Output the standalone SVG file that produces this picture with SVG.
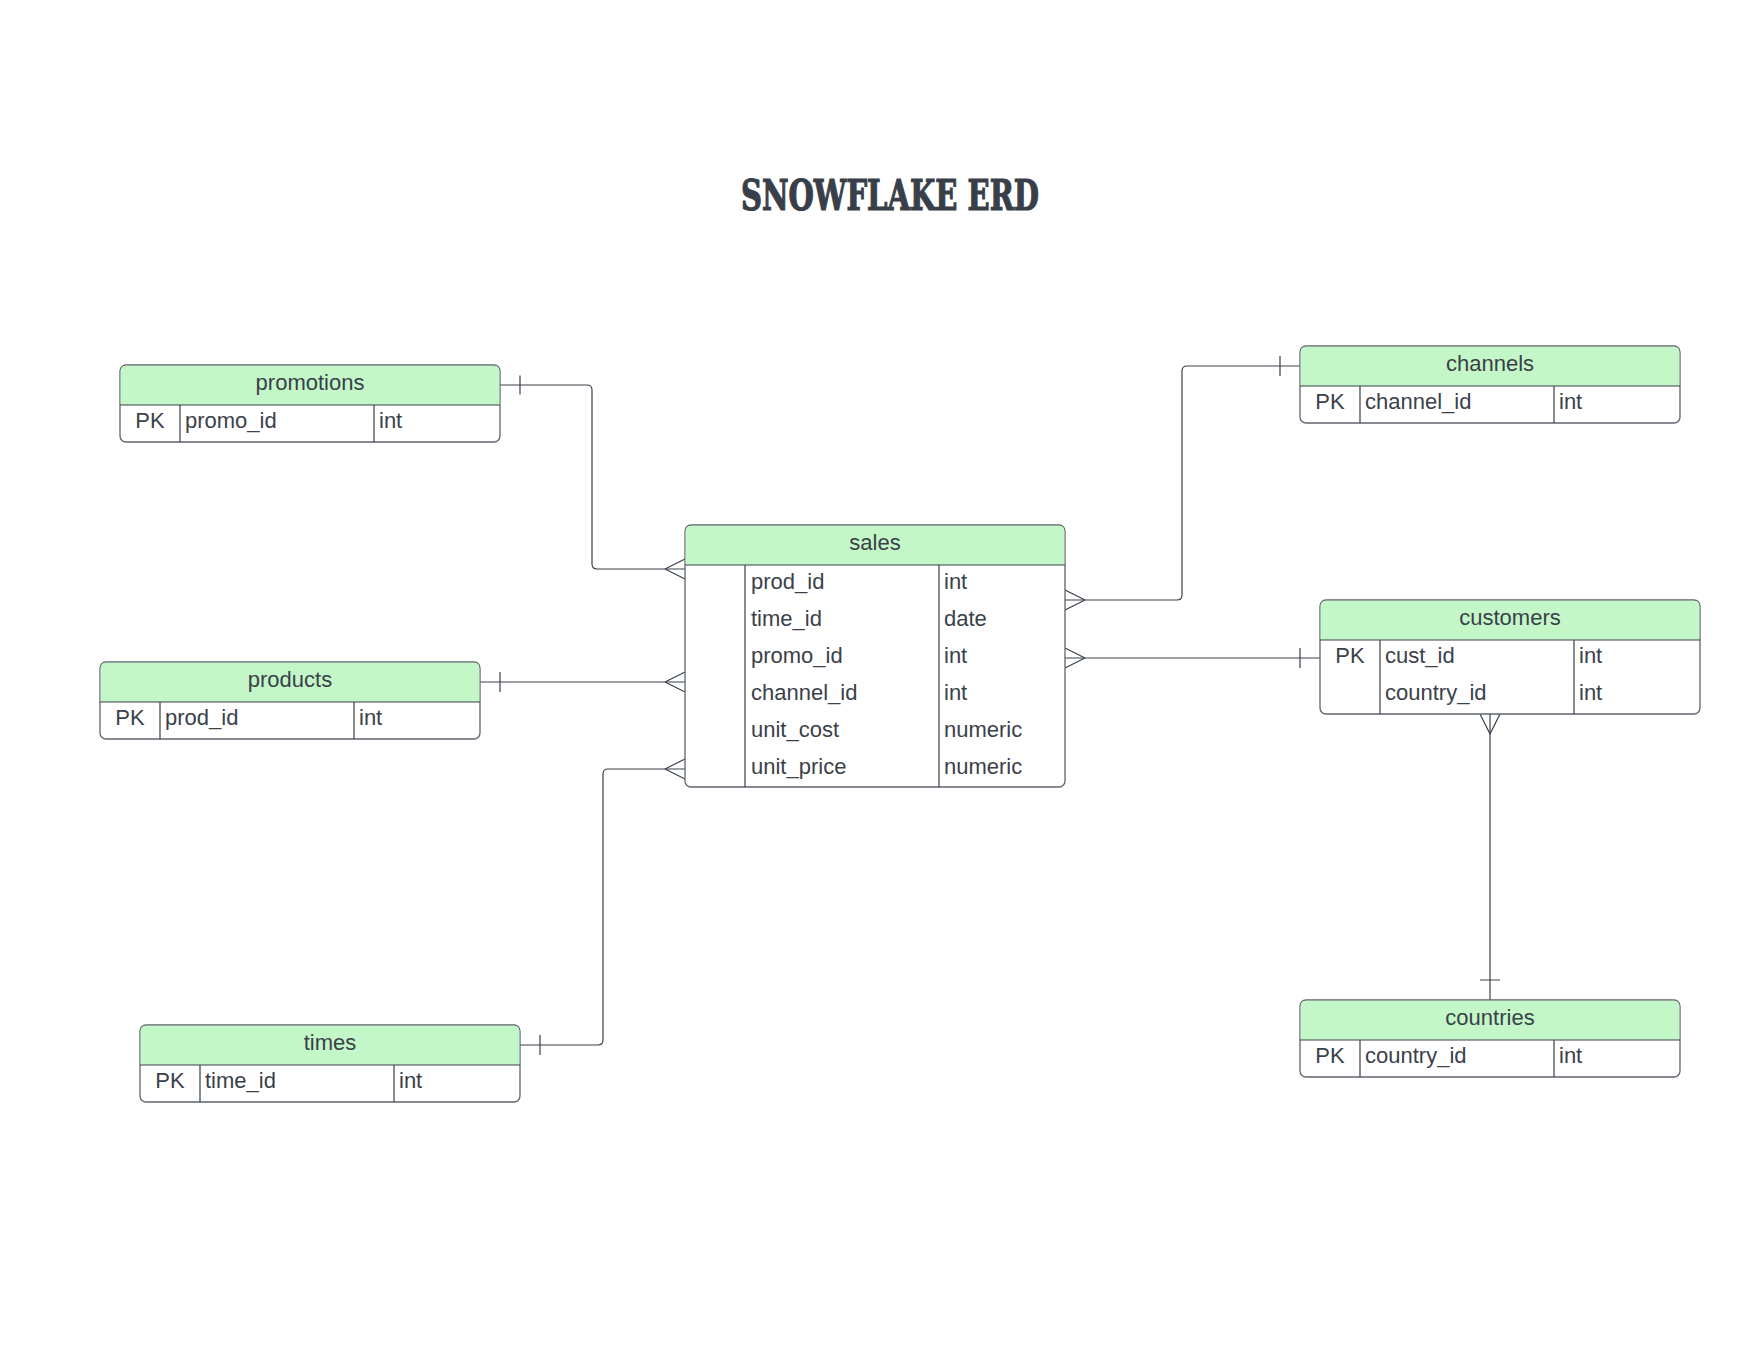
<svg xmlns="http://www.w3.org/2000/svg" width="1760" height="1360" viewBox="0 0 1760 1360">
<style>
.bg{fill:#ffffff}
.box{fill:#ffffff;stroke:#5f666f;stroke-width:1.3}
.hdr{fill:#c3f7c8}
.ln{stroke:#3a414a;stroke-width:1.2;fill:none}
.t{font-family:"Liberation Sans",Arial,sans-serif;font-size:22px;fill:#3a414a}
.c{text-anchor:middle}
.conn{fill:none;stroke:#3a414a;stroke-width:1.2}
.title{font-family:"DejaVu Serif Condensed","DejaVu Serif",serif;font-weight:bold;font-size:43px;fill:#393f49;stroke:#393f49;stroke-width:1.2;text-anchor:middle}
</style>
<rect class="bg" x="0" y="0" width="1760" height="1360"/>
<text class="title" x="890" y="210" textLength="298" lengthAdjust="spacingAndGlyphs">SNOWFLAKE ERD</text>

<g id="connectors">
  <path class="conn" d="M500,385 H587 Q592,385 592,390 V564 Q592,569 597,569 H685"/>
  <path class="conn" d="M520,375.5 V394.5 M665,569 L685,559 M665,569 L685,579"/>
  <path class="conn" d="M480,682 H685"/>
  <path class="conn" d="M500,672 V692 M665,682 L685,672 M665,682 L685,692"/>
  <path class="conn" d="M520,1045 H598 Q603,1045 603,1040 V774 Q603,769 608,769 H685"/>
  <path class="conn" d="M540,1035 V1055 M665,769 L685,759 M665,769 L685,779"/>
  <path class="conn" d="M1300,366 H1187 Q1182,366 1182,371 V595 Q1182,600 1177,600 H1065"/>
  <path class="conn" d="M1280,356 V376 M1085,600 L1065,590 M1085,600 L1065,610"/>
  <path class="conn" d="M1320,658 H1065"/>
  <path class="conn" d="M1300,648 V668 M1085,658 L1065,648 M1085,658 L1065,668"/>
  <path class="conn" d="M1490,714 V1000"/>
  <path class="conn" d="M1490,734 L1480,714 M1490,734 L1500,714 M1480,980 H1500"/>
</g>

<g id="promotions">
  <rect class="box" x="120" y="365" width="380" height="77" rx="6"/>
  <path class="hdr" d="M120.7,405 V371 Q120.7,365.7 126,365.7 H494 Q499.3,365.7 499.3,371 V405 Z"/>
  <path class="ln" d="M120,405 H500 M180,405 V442 M374,405 V442"/>
  <text class="t c" x="310" y="390">promotions</text>
  <text class="t c" x="150" y="428">PK</text>
  <text class="t" x="185" y="428">promo_id</text>
  <text class="t" x="379" y="428">int</text>
</g>

<g id="sales">
  <rect class="box" x="685" y="525" width="380" height="262" rx="6"/>
  <path class="hdr" d="M685.7,565 V531 Q685.7,525.7 691,525.7 H1059 Q1064.3,525.7 1064.3,531 V565 Z"/>
  <path class="ln" d="M685,565 H1065 M745,565 V787 M939,565 V787"/>
  <text class="t c" x="875" y="550">sales</text>
  <text class="t" x="751" y="589">prod_id</text>
  <text class="t" x="944" y="589">int</text>
  <text class="t" x="751" y="626">time_id</text>
  <text class="t" x="944" y="626">date</text>
  <text class="t" x="751" y="663">promo_id</text>
  <text class="t" x="944" y="663">int</text>
  <text class="t" x="751" y="700">channel_id</text>
  <text class="t" x="944" y="700">int</text>
  <text class="t" x="751" y="737">unit_cost</text>
  <text class="t" x="944" y="737">numeric</text>
  <text class="t" x="751" y="774">unit_price</text>
  <text class="t" x="944" y="774">numeric</text>
</g>

<g id="channels">
  <rect class="box" x="1300" y="346" width="380" height="77" rx="6"/>
  <path class="hdr" d="M1300.7,386 V352 Q1300.7,346.7 1306,346.7 H1674 Q1679.3,346.7 1679.3,352 V386 Z"/>
  <path class="ln" d="M1300,386 H1680 M1360,386 V423 M1554,386 V423"/>
  <text class="t c" x="1490" y="371">channels</text>
  <text class="t c" x="1330" y="409">PK</text>
  <text class="t" x="1365" y="409">channel_id</text>
  <text class="t" x="1559" y="409">int</text>
</g>

<g id="customers">
  <rect class="box" x="1320" y="600" width="380" height="114" rx="6"/>
  <path class="hdr" d="M1320.7,640 V606 Q1320.7,600.7 1326,600.7 H1694 Q1699.3,600.7 1699.3,606 V640 Z"/>
  <path class="ln" d="M1320,640 H1700 M1380,640 V714 M1574,640 V714"/>
  <text class="t c" x="1510" y="625">customers</text>
  <text class="t c" x="1350" y="663">PK</text>
  <text class="t" x="1385" y="663">cust_id</text>
  <text class="t" x="1579" y="663">int</text>
  <text class="t" x="1385" y="700">country_id</text>
  <text class="t" x="1579" y="700">int</text>
</g>

<g id="products">
  <rect class="box" x="100" y="662" width="380" height="77" rx="6"/>
  <path class="hdr" d="M100.7,702 V668 Q100.7,662.7 106,662.7 H474 Q479.3,662.7 479.3,668 V702 Z"/>
  <path class="ln" d="M100,702 H480 M160,702 V739 M354,702 V739"/>
  <text class="t c" x="290" y="687">products</text>
  <text class="t c" x="130" y="725">PK</text>
  <text class="t" x="165" y="725">prod_id</text>
  <text class="t" x="359" y="725">int</text>
</g>

<g id="times">
  <rect class="box" x="140" y="1025" width="380" height="77" rx="6"/>
  <path class="hdr" d="M140.7,1065 V1031 Q140.7,1025.7 146,1025.7 H514 Q519.3,1025.7 519.3,1031 V1065 Z"/>
  <path class="ln" d="M140,1065 H520 M200,1065 V1102 M394,1065 V1102"/>
  <text class="t c" x="330" y="1050">times</text>
  <text class="t c" x="170" y="1088">PK</text>
  <text class="t" x="205" y="1088">time_id</text>
  <text class="t" x="399" y="1088">int</text>
</g>

<g id="countries">
  <rect class="box" x="1300" y="1000" width="380" height="77" rx="6"/>
  <path class="hdr" d="M1300.7,1040 V1006 Q1300.7,1000.7 1306,1000.7 H1674 Q1679.3,1000.7 1679.3,1006 V1040 Z"/>
  <path class="ln" d="M1300,1040 H1680 M1360,1040 V1077 M1554,1040 V1077"/>
  <text class="t c" x="1490" y="1025">countries</text>
  <text class="t c" x="1330" y="1063">PK</text>
  <text class="t" x="1365" y="1063">country_id</text>
  <text class="t" x="1559" y="1063">int</text>
</g>
</svg>
